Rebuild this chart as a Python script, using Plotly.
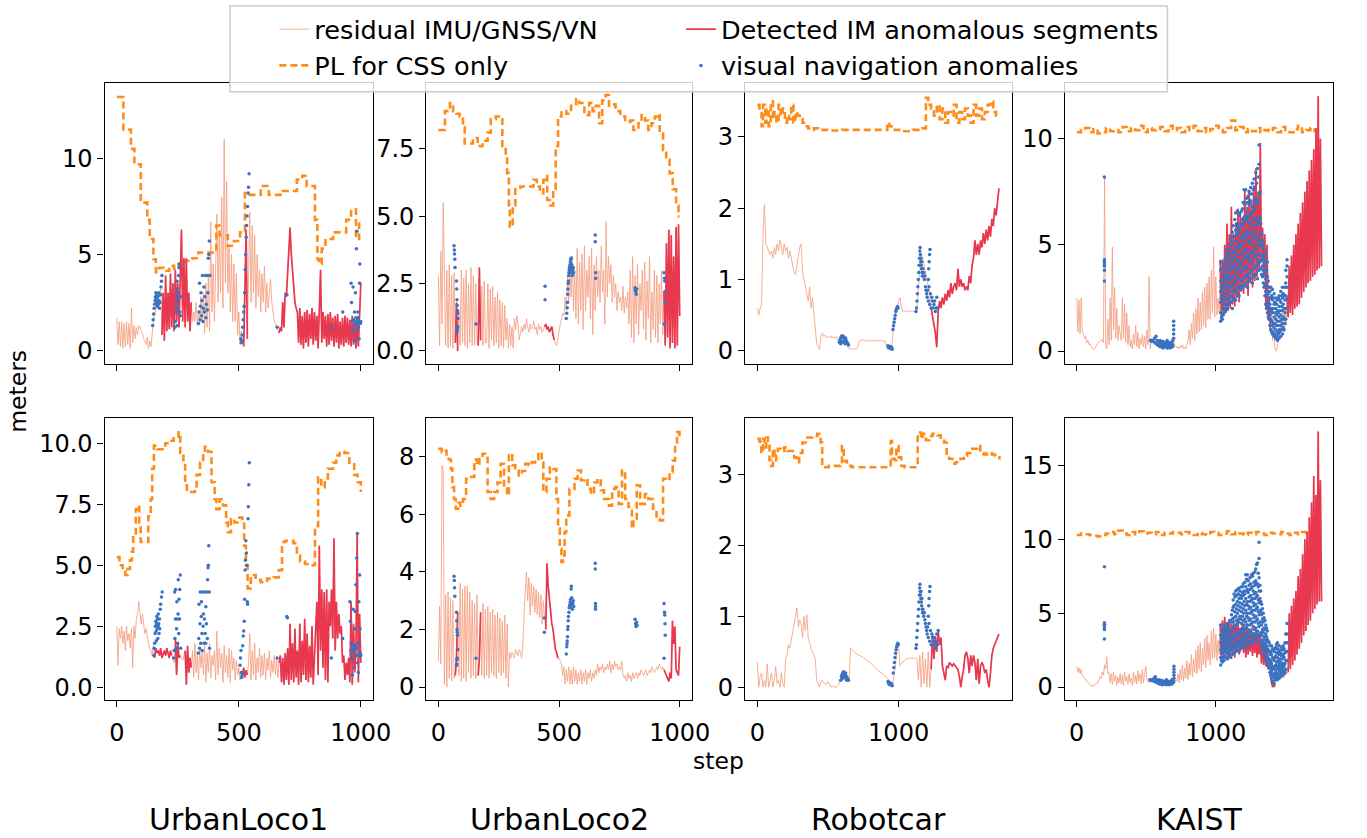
import plotly.graph_objects as go
from plotly.subplots import make_subplots

# ------------------------------------------------------------------ data
# residual IMU/GNSS/VN, sampled every UL_STEP / RC_STEP / KA_STEP steps
UL_STEP = 5
RC_STEP = 10
KA_STEP = 8

ul1_top_res = [
    1.7, 0.3, 1.5, 0.2, 1.5, 0.1, 1.4, 0.2, 1.5, 0.3,
    1.4, 0.1, 2.2, 0.4, 1.3, 0.6, 1.2, 0.8, 1.3, 1.2,
    1.0, 0.9, 0.6, 0.5, 0.3, 0.7, 0.1, 0.5, 0.2, 0.9,
    1.5, 1.8, 2.2, 2.5, 2.8, 3.0, 3.2, 0.8, 3.0, 0.5,
    3.9, 1.0, 3.0, 1.1, 4.0, 1.2, 3.5, 1.0, 4.2, 1.5,
    3.5, 1.2, 4.5, 6.3, 1.5, 4.8, 1.2, 4.8, 1.5, 3.0,
    1.0, 2.5, 1.5, 2.0, 1.5, 2.5, 1.3, 2.0, 1.5, 2.8,
    1.5, 3.0, 0.9, 3.5, 1.2, 4.0, 1.0, 6.7, 2.0, 4.5,
    1.5, 5.0, 7.1, 2.5, 6.0, 3.0, 8.0, 2.2, 11.0, 3.5,
    8.8, 3.0, 5.5, 2.0, 5.0, 1.5, 4.5, 1.5, 4.0, 0.8,
    2.0, 0.3, 1.0, 0.4, 0.2, 3.0, 6.3, 0.6, 5.0, 7.2,
    2.5, 6.5, 3.0, 6.0, 2.2, 5.0, 2.8, 4.2, 2.0, 4.0,
    2.5, 4.4, 2.0, 3.5, 2.2, 3.0, 3.7, 2.5, 2.0, 1.6,
    1.4, 1.2, 1.0, 0.9, 1.2, 1.0, 2.5, 1.2, 3.0, 2.8,
    4.0, 5.0, 6.4, 5.0, 4.0, 3.2, 2.5, 2.2, 2.0, 0.4,
    2.2, 0.3, 1.8, 0.1, 2.0, 0.4, 2.1, 0.2, 1.9, 0.6,
    2.2, 0.3, 2.0, 0.5, 1.8, 0.1, 2.0, 4.2, 0.4, 2.0,
    0.6, 1.8, 0.2, 1.9, 0.3, 2.0, 0.5, 1.7, 0.2, 1.8,
    0.4, 1.9, 0.1, 1.5, 0.3, 1.7, 0.2, 1.8, 0.4, 1.7,
    0.3, 1.6, 0.2, 1.8, 0.3, 1.6, 0.1, 1.5, 0.2, 1.6,
    3.5]
ul1_top_segs = [(185, 305), (520, 535), (665, 1000)]
ul1_top_pl_x = [0, 27, 58, 72, 98, 125, 135, 150, 160, 172, 192, 215, 235, 253, 280, 310, 334,
                360, 408, 421, 455, 480, 505, 525, 545, 590, 623, 680, 738, 760, 778, 812, 822,
                829, 840, 855, 886, 940, 960, 980, 993, 1000]
ul1_top_pl_y = [13.2, 11.5, 10.5, 9.7, 7.7, 6.8, 5.8, 4.75, 4.07, 4.3, 4.15, 4.4, 4.25, 4.5, 4.67,
                4.8, 5.1, 5.1, 6.5, 6.0, 5.45, 5.7, 6.15, 8.2, 8.1, 8.56, 8.1, 8.3, 8.9, 9.1, 8.56,
                6.8, 4.75, 4.5, 5.3, 5.8, 6.15, 6.8, 7.35, 5.8, 6.8, 6.8]
ul1_top_vis = [
    (147, 1.3), (149, 1.6), (151, 1.9), (153, 2.2), (155, 2.4), (157, 2.6), (158, 2.8), (160, 3.0),
    (161, 2.7), (163, 2.5), (164, 2.9), (166, 2.3), (167, 2.6), (169, 2.8), (170, 2.4), (172, 3.0),
    (173, 2.6), (175, 2.2), (177, 2.5), (179, 2.9), (181, 3.3), (183, 3.6), (185, 3.9),
    (238, 1.2), (240, 1.5), (242, 2.0), (243, 2.4), (245, 2.8), (246, 3.2), (247, 3.6), (248, 1.3),
    (250, 2.2), (251, 2.6), (252, 3.0), (253, 3.9), (255, 4.3), (256, 4.5), (258, 2.0), (260, 1.8),
    (262, 2.8),
    (335, 1.4), (337, 2.0), (339, 3.5), (341, 1.6), (343, 2.3), (345, 3.0), (347, 1.8), (349, 2.6),
    (351, 3.9), (353, 1.5), (355, 2.2), (357, 3.3), (359, 2.0), (361, 2.8), (363, 3.9), (365, 1.7),
    (367, 2.4), (369, 3.9), (371, 2.1), (373, 3.0), (375, 4.8), (377, 5.0), (379, 5.7), (381, 3.9),
    (508, 0.6), (510, 0.4), (512, 0.5), (514, 0.8), (516, 1.2), (518, 1.6), (520, 2.0), (522, 2.3),
    (524, 3.0), (526, 4.2), (528, 5.0), (530, 5.9), (532, 6.5), (534, 7.0), (536, 7.5), (538, 8.2),
    (540, 8.5), (542, 9.2),
    (657, 1.2), (697, 2.9), (879, 1.2), (926, 2.0),
    (960, 3.5), (962, 2.5), (964, 1.5), (966, 1.0), (968, 3.3), (970, 1.6), (972, 0.5), (974, 2.0),
    (975, 1.3), (976, 1.5), (978, 3.0), (980, 1.7), (982, 5.3), (983, 1.1), (984, 6.2), (985, 1.4),
    (987, 1.6), (988, 2.0), (989, 1.7), (990, 1.2), (991, 1.5), (993, 0.6), (995, 3.5), (996, 4.5),
    (998, 1.4), (1000, 1.5)]

ul2_top_res = [
    2.8, 0.2, 3.7, 1.0, 5.5, 2.0, 0.2, 3.0, 0.1, 3.2,
    0.2, 2.8, 0.1, 2.9, 0.3, 1.8, 0.0, 1.5, 0.2, 3.0,
    0.3, 2.7, 0.2, 3.0, 0.1, 2.5, 0.3, 3.1, 0.2, 2.8,
    0.2, 2.5, 0.3, 0.2, 3.1, 0.4, 2.4, 0.2, 2.6, 0.3,
    0.3, 2.5, 0.1, 2.3, 0.4, 2.4, 0.2, 2.0, 0.3, 2.2,
    0.1, 1.9, 0.2, 1.8, 0.1, 1.7, 0.4, 1.2, 0.1, 1.0,
    0.2, 0.9, 0.1, 1.2, 0.8, 1.3, 1.0, 0.4, 0.6, 0.9,
    0.7, 1.0, 0.8, 1.2, 0.9, 0.7, 1.0, 0.8, 0.9, 1.1,
    0.8, 0.9, 0.6, 1.0, 0.8, 0.9, 0.7, 0.8, 0.9, 1.0,
    0.8, 0.9, 0.7, 0.8, 0.9, 0.6, 0.4, 0.3, 0.2, 0.5,
    0.7, 1.0, 1.2, 1.4, 1.3, 2.0, 1.5, 2.8, 1.8, 3.2,
    2.0, 3.5, 1.5, 3.0, 1.2, 3.8, 1.0, 3.3, 1.5, 3.6,
    0.8, 3.9, 1.5, 3.0, 2.0, 3.5, 1.2, 3.8, 0.6, 3.2,
    1.5, 3.5, 2.0, 3.0, 1.8, 3.9, 2.2, 3.0, 1.0, 4.8,
    2.0, 3.5, 2.5, 3.2, 1.8, 2.8, 2.0, 2.5, 1.5, 2.2,
    1.8, 2.0, 1.5, 2.4, 1.4, 2.0, 1.6, 2.2, 1.0, 3.0,
    0.5, 3.5, 0.3, 2.8, 1.0, 3.2, 0.6, 2.5, 1.5, 3.0,
    0.8, 3.3, 0.4, 2.6, 1.2, 3.5, 0.3, 2.2, 0.8, 3.0,
    0.5, 2.8, 0.3, 2.5, 1.0, 3.0, 0.6, 2.2, 0.2, 4.0,
    0.5, 4.5, 0.1, 4.3, 0.3, 3.5, 0.1, 4.6, 0.2, 4.7,
    1.3]
ul2_top_segs = [(70, 82), (165, 176), (440, 482), (935, 1000)]
ul2_top_pl_x = [0, 27, 48, 61, 75, 88, 102, 109, 143, 163, 183, 204, 217, 238, 251, 265, 279, 285,
                292, 296, 302, 308, 319, 340, 394, 408, 421, 435, 442, 451, 462, 476, 486, 496, 510,
                530, 550, 571, 584, 605, 625, 639, 652, 666, 679, 693, 707, 720, 734, 754, 774, 795,
                808, 829, 842, 856, 870, 883, 897, 910, 917, 931, 944, 958, 971, 985, 995, 1000]
ul2_top_pl_y = [8.2, 8.9, 9.2, 8.9, 8.8, 8.7, 8.3, 7.7, 7.9, 7.6, 7.8, 8.1, 8.6, 8.7, 8.6, 7.6, 7.2,
                6.6, 5.4, 4.6, 4.7, 5.4, 6.0, 6.1, 6.35, 6.1, 5.85, 6.35, 6.5, 5.6, 5.4, 6.0, 7.6,
                8.7, 8.9, 8.8, 9.1, 9.35, 9.2, 8.75, 9.2, 8.9, 9.1, 8.45, 9.3, 9.5, 9.1, 9.15, 8.9,
                8.7, 8.5, 8.55, 8.2, 8.45, 8.75, 8.55, 8.2, 8.45, 8.7, 8.8, 8.07, 7.45, 7.1, 6.6,
                6.0, 5.4, 5.0, 5.0]
ul2_top_vis = [
    (65, 3.9), (66, 3.75), (67, 3.6), (68, 3.4), (69, 3.1), (75, 2.6), (76, 2.3), (77, 1.9),
    (78, 1.7), (79, 1.5), (80, 1.4), (81, 1.2), (80, 0.9), (78, 0.8), (77, 0.7), (156, 1.0),
    (442, 2.4), (442, 1.9),
    (530, 1.2), (532, 1.4), (534, 1.6), (535, 1.8), (536, 2.1), (537, 2.3), (538, 2.5), (539, 2.6),
    (540, 2.8), (541, 2.9), (542, 3.0), (543, 3.1), (545, 3.2), (546, 3.0), (547, 3.3), (548, 3.4),
    (550, 3.1), (551, 3.45), (552, 2.9), (553, 3.2), (555, 2.8), (557, 3.0), (559, 3.1), (560, 2.9),
    (650, 4.3), (650, 4.05), (652, 2.9), (652, 2.7),
    (815, 2.35), (816, 2.25), (818, 2.2), (820, 2.1), (822, 2.3),
    (935, 2.9), (937, 2.7), (938, 2.6), (939, 2.2), (940, 1.8), (936, 1.0)]

rc_top_res = [
    0.6, 0.5, 0.6, 0.65, 1.6, 2.05, 1.5, 1.45, 1.4, 1.35,
    1.4, 1.3, 1.45, 1.35, 1.5, 1.4, 1.55, 1.45, 1.35, 1.5,
    1.4, 1.45, 1.3, 1.4, 1.3, 1.2, 1.1, 1.07, 1.2, 1.3,
    1.45, 1.5, 1.1, 1.0, 0.9, 0.85, 0.7, 0.9, 0.6, 0.75,
    0.5, 0.3, 0.1, 0.05, 0.02, 0.2, 0.25, 0.2, 0.22, 0.18,
    0.2, 0.18, 0.21, 0.18, 0.2, 0.17, 0.2, 0.15, 0.12, 0.15,
    0.2, 0.18, 0.15, 0.12, 0.05, 0.03, 0.02, 0.03, 0.02, 0.03,
    0.02, 0.05, 0.12, 0.15, 0.15, 0.14, 0.15, 0.13, 0.15, 0.14,
    0.15, 0.13, 0.15, 0.14, 0.15, 0.13, 0.15, 0.14, 0.15, 0.13,
    0.14, 0.1, 0.02, 0.05, 0.03, 0.04, 0.3, 0.45, 0.55, 0.6,
    0.7, 0.75, 0.6, 0.55, 0.56, 0.55, 0.56, 0.55, 0.56, 0.55,
    0.56, 0.55, 0.56, 0.6, 0.9, 1.2, 1.35, 1.3, 1.2, 1.1,
    1.0, 0.9, 0.8, 0.6, 0.5, 0.35, 0.25, 0.05, 0.55, 0.7,
    0.6, 0.75, 0.65, 0.8, 0.7, 0.85, 0.75, 0.95, 0.8, 0.9,
    0.95, 0.85, 1.15, 0.9, 1.0, 0.9, 0.95, 0.85, 0.9, 0.85,
    1.05, 0.95, 1.2, 1.3, 1.55, 1.35, 1.5, 1.35, 1.55, 1.45,
    1.65, 1.5, 1.7, 1.55, 1.75, 1.6, 1.85, 1.75, 2.0, 1.9,
    2.15, 2.28]
rc_top_segs = [(1225, 1710)]
rc_top_pl_x = [0, 15, 30, 40, 55, 65, 80, 95, 110, 120, 135, 150, 165, 180, 195, 210, 225, 240,
               255, 270, 285, 300, 320, 340, 360, 380, 400, 430, 460, 520, 600, 700, 800, 880, 920,
               935, 950, 980, 1030, 1100, 1170, 1193, 1210, 1230, 1250, 1270, 1290, 1310, 1330,
               1350, 1370, 1390, 1410, 1430, 1450, 1470, 1490, 1510, 1530, 1550, 1570, 1590, 1610,
               1630, 1650, 1670, 1690, 1710]
rc_top_pl_y = [3.45, 3.4, 3.15, 3.45, 3.2, 3.4, 3.15, 3.5, 3.25, 3.35, 3.2, 3.45, 3.3, 3.4, 3.2,
               3.3, 3.25, 3.45, 3.2, 3.35, 3.3, 3.25, 3.2, 3.15, 3.12, 3.1, 3.12, 3.1, 3.1, 3.09,
               3.1, 3.1, 3.1, 3.1, 3.2, 3.15, 3.1, 3.1, 3.08, 3.1, 3.12, 3.55, 3.45, 3.4, 3.3,
               3.45, 3.25, 3.4, 3.2, 3.35, 3.3, 3.45, 3.2, 3.35, 3.25, 3.4, 3.3, 3.2, 3.45, 3.3,
               3.4, 3.25, 3.35, 3.45, 3.5, 3.35, 3.3, 3.3]
rc_top_vis = [
    (580, 0.12), (585, 0.15), (590, 0.18), (595, 0.2), (600, 0.21), (605, 0.19), (610, 0.2),
    (615, 0.17), (620, 0.15), (625, 0.18), (630, 0.14), (635, 0.12), (640, 0.1), (645, 0.08),
    (590, 0.1), (600, 0.13), (610, 0.12), (620, 0.1),
    (925, 0.07), (930, 0.05), (935, 0.04), (940, 0.06), (945, 0.03), (950, 0.05), (955, 0.02),
    (960, 0.3), (964, 0.35), (968, 0.4), (972, 0.45), (976, 0.5), (980, 0.55), (984, 0.58),
    (988, 0.6), (992, 0.62), (996, 0.6),
    (1123, 0.55), (1127, 0.6), (1130, 0.7), (1133, 0.8), (1136, 0.9), (1139, 1.0), (1142, 1.1),
    (1145, 1.2), (1148, 1.3), (1150, 1.4), (1152, 1.45), (1154, 1.35), (1156, 1.25), (1158, 1.3),
    (1160, 1.2), (1162, 1.15), (1164, 1.25), (1166, 1.1), (1168, 1.05), (1172, 1.15), (1175, 1.05),
    (1178, 1.1), (1182, 1.0), (1186, 1.05), (1190, 0.9), (1194, 0.85), (1198, 0.8), (1202, 0.75),
    (1210, 1.0), (1213, 1.15), (1216, 1.25), (1219, 1.35), (1222, 1.42),
    (1205, 0.85), (1210, 0.7), (1215, 0.9), (1220, 0.65), (1225, 0.8), (1230, 0.6), (1235, 0.75),
    (1240, 0.7), (1245, 0.6), (1250, 0.65), (1255, 0.7), (1260, 0.55), (1265, 0.6), (1270, 0.75),
    (1275, 0.6)]

ka_top_res = [
    2.5, 0.9, 2.4, 0.8, 2.5, 0.9, 0.8, 0.6, 0.7, 0.4,
    0.5, 0.3, 0.35, 0.2, 0.1, 0.05, 0.1, 0.2, 0.3, 0.4,
    0.45, 0.5, 0.5, 0.55, 0.4, 8.2, 0.3, 0.1, 1.5, 0.3,
    2.5, 0.5, 4.9, 1.0, 3.0, 0.6, 2.0, 0.5, 1.2, 0.8,
    0.5, 2.5, 0.6, 2.2, 0.4, 1.8, 0.3, 1.2, 0.2, 0.5,
    0.1, 0.8, 0.3, 1.2, 0.2, 0.9, 0.1, 0.6, 0.3, 0.8,
    0.2, 0.7, 0.1, 1.0, 0.3, 3.5, 0.1, 0.6, 0.5, 0.45,
    0.5, 0.4, 0.5, 0.45, 0.4, 0.5, 0.3, 0.35, 0.25, 0.3,
    0.2, 0.3, 0.25, 0.2, 0.3, 0.2, 0.25, 0.5, 0.3, 0.2,
    0.15, 0.2, 0.1, 0.25, 0.15, 0.3, 0.1, 0.2, 0.1, 0.3,
    0.5, 1.0, 0.3, 1.3, 0.6, 1.8, 0.5, 2.0, 0.8, 2.5,
    0.9, 2.3, 1.0, 2.8, 1.2, 3.0, 1.1, 3.2, 1.5, 3.5,
    1.5, 3.8, 1.8, 4.9, 1.6, 3.5, 1.7, 2.5, 1.8, 4.3,
    1.5, 4.3, 1.7, 5.0, 1.8, 6.0, 1.9, 5.5, 2.0, 6.8,
    2.2, 5.5, 2.1, 6.0, 2.5, 6.7, 2.3, 6.5, 2.8, 6.2,
    2.7, 7.6, 3.0, 6.8, 2.6, 7.6, 3.2, 7.0, 3.0, 7.8,
    3.3, 8.6, 3.5, 7.5, 3.8, 9.8, 4.2, 5.8, 3.5, 5.5,
    2.0, 5.0, 1.5, 2.5, 1.0, 2.0, 0.5, 1.5, 0.2, 0.0,
    0.1, 0.5, 0.8, 1.2, 1.0, 1.8, 0.9, 2.0, 1.2, 2.5,
    1.6, 4.0, 1.8, 4.5, 1.7, 5.0, 2.0, 5.5, 2.1, 6.0,
    2.2, 6.5, 2.5, 7.0, 2.8, 7.5, 3.0, 8.0, 3.2, 8.5,
    3.3, 9.0, 3.5, 9.5, 3.6, 10.5, 3.8, 12.0, 3.9, 10.0,
    4.0]
ka_top_segs = [(1032, 1392), (1512, 1760)]
ka_top_pl = [10.3, 10.4, 10.5, 10.3, 10.45, 10.25, 10.3, 10.5, 10.35, 10.4,
             10.3, 10.55, 10.35, 10.5, 10.4, 10.6, 10.3, 10.5, 10.4, 10.45,
             10.55, 10.35, 10.6, 10.4, 10.5, 10.3, 10.55, 10.4, 10.6, 10.35,
             10.5, 10.3, 10.45, 10.6, 10.4, 10.3, 10.5, 10.85, 10.4, 10.55,
             10.3, 10.45, 10.35, 10.5, 10.3, 10.4, 10.35, 10.5, 10.3, 10.55,
             10.4, 10.3, 10.45, 10.6, 10.3, 10.4, 10.5, 10.35, 10.45]
ka_top_cloud = [
    (199, [8.2, 4.3, 4.2, 4.1, 4.0, 3.8, 3.3]),
    (530, [0.5]), (540, [0.5, 0.45]), (550, [0.5]), (560, [0.6, 0.4]), (570, [0.7, 0.35]),
    (580, [0.5, 0.3]), (590, [0.45, 0.25, 0.35]), (600, [0.3, 0.2, 0.5]), (610, [0.35, 0.2, 0.4]),
    (620, [0.3, 0.15, 0.45]), (630, [0.25, 0.35, 0.2]), (640, [0.4, 0.2, 0.3]),
    (650, [0.3, 0.15, 0.5]), (660, [0.35, 0.2, 0.4]), (670, [0.25, 0.3, 0.15]),
    (680, [0.4, 0.2, 0.3]), (690, [0.3, 0.5, 0.2]), (697, [0.6, 0.8, 1.0, 1.2, 1.4]),
    (1035, [1.4, 1.8, 2.3, 2.8, 3.3, 3.8, 4.2]), (1041, [1.6, 2.5, 3.0, 3.9]),
    (1047, [1.5, 2.0, 2.6, 3.1, 3.6]), (1053, [1.7, 2.4, 3.3, 4.1]),
    (1059, [1.8, 2.2, 2.9, 3.4, 4.0]), (1065, [2.0, 2.7, 3.6, 4.3]),
    (1071, [1.9, 2.5, 3.2, 3.8, 4.4]), (1077, [2.2, 3.0, 3.5, 4.6]),
    (1083, [2.0, 2.7, 3.4, 4.1, 4.8]), (1089, [2.4, 3.1, 3.9, 4.5]),
    (1095, [2.2, 2.9, 3.6, 4.3, 5.0]), (1101, [2.5, 3.3, 4.0, 4.8]),
    (1107, [2.3, 3.0, 3.8, 4.5, 5.2]), (1113, [2.6, 3.4, 4.2, 5.4]),
    (1119, [2.0, 2.8, 3.5, 4.3, 5.0, 5.6]), (1125, [2.4, 3.1, 3.9, 4.6, 5.9]),
    (1131, [2.5, 3.2, 4.0, 4.7, 5.4]), (1137, [2.8, 3.6, 4.4, 5.2, 6.2]),
    (1143, [2.4, 3.3, 4.1, 4.9, 5.7, 6.5]), (1149, [2.9, 3.8, 4.6, 5.5, 6.0]),
    (1155, [2.7, 3.5, 4.3, 5.1, 5.9, 6.6]), (1161, [3.0, 3.9, 4.8, 5.6]),
    (1167, [2.6, 3.4, 4.2, 5.0, 5.8, 6.4]), (1173, [3.1, 4.0, 4.9, 5.7, 6.5]),
    (1179, [2.9, 3.7, 4.5, 5.3, 6.0]), (1185, [3.3, 4.1, 5.0, 5.9, 6.6]),
    (1191, [3.0, 3.8, 4.6, 5.4, 6.2, 6.7]), (1197, [3.4, 4.3, 5.1, 6.0, 7.0]),
    (1203, [3.1, 3.9, 4.7, 5.5, 6.3, 7.6]), (1209, [3.5, 4.4, 5.3, 6.1, 6.9]),
    (1215, [3.2, 4.0, 4.8, 5.6, 6.4, 7.6]), (1221, [3.6, 4.5, 5.4, 6.2, 7.2]),
    (1227, [3.0, 3.9, 4.8, 5.7, 6.6, 7.0]), (1233, [3.5, 4.4, 5.2, 6.3, 7.3]),
    (1239, [3.3, 4.2, 5.1, 6.0, 6.9, 7.5]), (1245, [3.7, 4.6, 5.5, 6.4, 7.1]),
    (1251, [3.4, 4.3, 5.2, 6.1, 7.0, 7.7]), (1257, [3.8, 4.7, 5.6, 6.5, 7.4]),
    (1263, [3.2, 4.1, 5.0, 5.9, 6.8, 7.9]), (1269, [3.6, 4.6, 5.5, 6.6, 7.6]),
    (1275, [3.5, 4.4, 5.3, 6.2, 7.1, 8.1]), (1281, [3.9, 4.8, 5.7, 6.7, 7.7]),
    (1287, [3.6, 4.5, 5.4, 6.3, 7.2, 8.4]), (1293, [4.0, 4.9, 5.9, 6.9, 7.9]),
    (1299, [3.4, 4.3, 5.2, 6.1, 7.0, 8.6]), (1305, [4.1, 5.0, 6.0, 7.1, 8.2]),
    (1311, [3.8, 4.6, 5.4, 6.2, 7.4, 8.8, 9.7]), (1317, [4.2, 5.2, 6.3, 7.5]),
    (1323, [3.9, 4.5, 5.0, 5.6, 6.0]), (1329, [3.6, 4.3, 4.9, 5.5]),
    (1335, [3.5, 4.0, 4.5, 5.2]), (1341, [3.2, 3.8, 4.4, 5.0]),
    (1347, [3.0, 3.6, 4.2, 4.8]), (1353, [2.6, 3.1, 3.7, 4.3]),
    (1359, [2.2, 2.8, 3.4, 4.0, 4.6]), (1365, [2.0, 2.6, 3.1, 3.8]),
    (1371, [1.8, 2.3, 2.8, 3.5, 4.2]), (1377, [1.6, 2.1, 2.7, 3.3]),
    (1383, [1.5, 2.0, 2.5, 3.0]), (1389, [1.2, 1.7, 2.2, 2.8]),
    (1395, [1.0, 1.5, 2.0, 2.5, 3.0]), (1401, [0.9, 1.4, 1.9, 2.6]),
    (1407, [0.8, 1.2, 1.8, 2.4, 2.9]), (1413, [0.9, 1.3, 2.0, 2.5]),
    (1419, [0.7, 1.1, 1.6, 2.2, 2.7]), (1425, [0.8, 1.3, 1.8, 2.3]),
    (1431, [0.6, 1.0, 1.5, 2.0, 2.5]), (1437, [0.7, 1.2, 1.7, 2.2]),
    (1443, [0.5, 0.9, 1.4, 1.9, 2.4]), (1449, [0.8, 1.2, 1.8, 2.5]),
    (1455, [0.6, 1.0, 1.6, 2.1, 2.6]), (1461, [0.9, 1.4, 1.9, 2.4]),
    (1467, [0.7, 1.2, 1.7, 2.3, 2.8]), (1473, [1.0, 1.5, 2.1, 2.6]),
    (1479, [0.8, 1.3, 1.9, 2.5, 3.0]), (1485, [1.1, 1.6, 2.2, 2.7]),
    (1491, [1.0, 1.5, 2.0, 2.6]), (1497, [1.3, 1.8, 2.4, 3.0]),
    (1503, [1.5, 2.0, 2.6, 3.2, 3.8]), (1512, [2.5, 3.0, 3.5, 4.0, 4.3])]

ul1_bot_res = [
    2.5, 0.9, 2.4, 2.0, 2.5, 1.8, 2.3, 1.5, 2.5, 1.9,
    2.2, 1.6, 2.4, 0.8, 2.5, 2.0, 2.8, 3.0, 3.5, 3.0,
    2.6, 3.0, 2.5, 2.2, 2.4, 2.0, 1.8, 1.6, 1.5, 1.3,
    1.7, 1.2, 1.6, 1.4, 1.5, 1.3, 1.6, 1.2, 1.4, 1.5,
    1.3, 1.6, 1.4, 1.2, 1.5, 1.3, 1.2, 1.0, 2.0, 0.5,
    1.8, 1.2, 1.3, 1.2, 1.1, 1.3, 1.5, 0.1, 1.7, 0.6,
    1.2, 0.8, 1.5, 0.4, 1.8, 0.6, 1.4, 0.3, 1.6, 0.8,
    1.5, 0.5, 1.7, 0.2, 1.4, 0.6, 1.8, 0.4, 1.3, 0.9,
    1.5, 0.3, 2.3, 0.5, 1.6, 0.8, 1.4, 0.2, 1.7, 0.6,
    1.3, 0.4, 1.6, 0.2, 1.5, 0.7, 1.2, 0.3, 1.1, 0.5,
    0.8, 0.3, 0.6, 0.5, 0.8, 0.4, 0.7, 0.5, 1.0, 2.2,
    0.3, 1.5, 0.5, 1.8, 0.3, 1.2, 0.6, 1.6, 0.4, 1.3,
    0.5, 1.4, 0.3, 1.2, 0.7, 1.5, 0.4, 1.1, 0.6, 1.3,
    0.5, 1.2, 0.4, 1.0, 1.3, 0.2, 1.2, 0.1, 1.4, 0.3,
    1.6, 0.1, 2.6, 0.3, 1.8, 0.2, 2.4, 0.4, 1.5, 0.1,
    2.6, 0.2, 1.9, 0.5, 2.8, 0.3, 2.2, 0.2, 1.7, 0.4,
    2.5, 0.1, 1.4, 2.0, 3.5, 0.5, 5.8, 1.5, 4.0, 0.8,
    3.9, 0.3, 4.0, 0.2, 3.5, 2.5, 4.0, 2.0, 6.1, 1.5,
    3.5, 2.0, 3.0, 2.2, 2.5, 1.0, 1.3, 0.3, 1.0, 0.5,
    1.2, 0.2, 3.5, 0.1, 2.6, 0.6, 1.5, 6.3, 0.2, 3.0,
    1.0]
ul1_bot_segs = [(155, 228), (238, 262), (278, 308), (508, 537), (662, 1000)]
ul1_bot_pl_x = [0, 11, 24, 35, 44, 54, 62, 67, 78, 89, 92, 98, 118, 129, 139, 145, 152, 166, 186,
                199, 213, 233, 253, 260, 273, 280, 287, 300, 320, 327, 341, 354, 361, 374, 388,
                401, 408, 421, 435, 448, 455, 468, 482, 502, 515, 522, 529, 536, 549, 569, 590,
                616, 643, 664, 677, 690, 711, 724, 738, 751, 771, 791, 812, 825, 838, 852, 865,
                886, 899, 913, 933, 953, 973, 987, 1000]
ul1_bot_pl_y = [5.33, 5.0, 4.8, 4.6, 4.85, 5.2, 5.55, 6.2, 7.3, 7.45, 6.75, 5.95, 5.95, 7.0, 7.7,
                8.95, 9.9, 9.75, 9.75, 10.0, 10.1, 10.2, 10.45, 9.6, 9.1, 8.4, 8.0, 8.0, 8.1, 8.7,
                9.2, 9.55, 9.85, 9.65, 8.4, 7.7, 7.3, 7.7, 7.45, 6.75, 6.35, 6.9, 6.75, 6.95, 6.7,
                5.8, 5.0, 4.05, 4.6, 4.4, 4.3, 4.45, 4.5, 4.8, 5.95, 6.0, 6.0, 5.9, 5.4, 5.15,
                5.05, 5.0, 6.6, 8.6, 8.2, 8.55, 8.95, 9.2, 9.5, 9.65, 9.6, 9.2, 8.7, 8.4, 8.0]
ul1_bot_vis = [
    (152, 1.3), (153, 1.6), (155, 1.8), (157, 2.2), (158, 2.5), (160, 2.7), (161, 2.3), (162, 1.9),
    (163, 2.6), (164, 2.9), (166, 2.4), (167, 2.8), (168, 2.0), (169, 2.5), (170, 3.0), (172, 2.6),
    (173, 2.2), (175, 2.8), (176, 2.4), (178, 3.2), (180, 3.4), (183, 3.7), (186, 3.9),
    (233, 1.2), (235, 1.5), (237, 3.9), (238, 2.0), (240, 2.8), (241, 4.0), (243, 1.6), (245, 2.4),
    (246, 3.5), (248, 2.8), (249, 1.8), (251, 3.0), (252, 4.4), (254, 2.2), (255, 3.6), (257, 2.8),
    (258, 4.0), (260, 4.6), (262, 1.6),
    (334, 1.4), (336, 2.0), (337, 3.4), (339, 1.6), (341, 2.6), (342, 3.9), (344, 1.8), (346, 2.9),
    (347, 3.5), (349, 2.2), (350, 1.5), (352, 3.9), (354, 2.5), (355, 3.0), (357, 1.8), (359, 2.8),
    (360, 3.9), (362, 2.2), (364, 1.8), (365, 3.3), (367, 2.6), (369, 3.9), (371, 2.0), (372, 4.4),
    (374, 4.9), (375, 5.0), (377, 5.8), (379, 3.9), (380, 1.6),
    (505, 0.9), (507, 1.2), (509, 1.5), (510, 0.6), (512, 0.4), (514, 0.5), (516, 1.7), (518, 2.1),
    (520, 2.3), (522, 2.7), (524, 3.6), (526, 4.8), (527, 5.2), (529, 6.0), (531, 5.5), (533, 5.0),
    (535, 3.5), (536, 3.4), (538, 6.9), (539, 7.4), (541, 8.3), (543, 9.2),
    (657, 1.2), (697, 2.9), (699, 2.85), (879, 1.2), (926, 2.0),
    (955, 3.5), (957, 2.7), (959, 1.5), (961, 1.8), (963, 1.4), (964, 1.2), (966, 0.5), (968, 3.2),
    (969, 1.6), (971, 1.7), (972, 0.8), (974, 2.4), (975, 1.5), (977, 3.1), (978, 1.7), (980, 4.2),
    (981, 1.3), (983, 5.3), (984, 1.6), (986, 6.3), (987, 1.0), (989, 1.8), (990, 0.6), (992, 3.5),
    (993, 1.3), (995, 4.6), (997, 2.4), (998, 1.4), (1000, 1.3)]

ul2_bot_res = [
    0.9, 2.8, 0.8, 7.7, 7.5, 0.1, 3.2, 0.0, 3.3, 0.3,
    3.1, 0.2, 3.0, 0.3, 0.4, 1.0, 2.6, 0.4, 3.6, 0.2,
    3.4, 0.3, 3.5, 0.2, 3.5, 0.5, 3.3, 0.3, 3.0, 0.4,
    2.9, 0.3, 3.2, 0.4, 1.0, 2.6, 0.4, 2.9, 0.3, 2.7,
    0.4, 2.8, 0.3, 2.6, 0.5, 2.7, 0.4, 2.5, 0.3, 2.6,
    0.5, 2.4, 0.4, 2.3, 0.5, 2.5, 0.3, 2.2, 0.0, 1.2,
    1.0, 1.2, 1.1, 1.0, 1.3, 1.2, 1.1, 1.3, 1.2, 1.0,
    1.5, 2.5, 3.5, 4.0, 3.0, 3.8, 2.5, 3.6, 2.8, 3.5,
    2.6, 3.4, 2.5, 3.3, 2.4, 3.2, 2.2, 3.0, 2.4, 2.0,
    4.3, 3.5, 3.0, 2.8, 2.2, 2.0, 1.5, 1.3, 1.2, 1.0,
    1.0, 0.9, 0.8, 0.4, 0.7, 0.1, 0.6, 0.2, 0.7, 0.1,
    0.6, 0.1, 0.7, 0.2, 0.6, 0.1, 0.5, 0.2, 0.6, 0.1,
    0.5, 0.2, 0.6, 0.1, 0.5, 0.3, 0.6, 0.2, 0.5, 0.3,
    0.6, 0.4, 0.8, 0.5, 0.7, 0.6, 0.8, 0.5, 0.7, 0.6,
    0.8, 0.6, 0.9, 0.5, 0.8, 0.6, 0.9, 0.7, 0.8, 0.6,
    0.7, 0.6, 0.9, 0.4, 0.3, 0.4, 0.2, 0.5, 0.3, 0.4,
    0.2, 0.5, 0.3, 0.4, 0.5, 0.3, 0.5, 0.4, 0.6, 0.5,
    0.4, 0.5, 0.6, 0.4, 0.5, 0.6, 0.5, 0.7, 0.6, 0.5,
    0.6, 0.7, 0.6, 0.8, 0.7, 0.6, 0.7, 0.6, 0.5, 0.4,
    0.3, 0.2, 0.5, 0.3, 2.3, 1.5, 2.1, 0.6, 0.5, 0.4,
    1.4]
ul2_bot_segs = [(70, 82), (165, 176), (445, 497), (935, 1000)]
ul2_bot_pl_x = [0, 14, 24, 34, 43, 52, 58, 65, 72, 82, 91, 102, 115, 136, 149, 160, 170, 183, 197,
                204, 217, 231, 245, 258, 272, 285, 292, 306, 319, 333, 346, 360, 374, 387, 401, 414,
                428, 435, 448, 462, 476, 489, 496, 503, 510, 516, 523, 530, 543, 564, 577, 591, 605,
                618, 632, 645, 659, 673, 686, 707, 720, 734, 747, 761, 774, 788, 802, 808, 822, 836,
                856, 870, 890, 904, 917, 931, 944, 958, 971, 981, 989, 999]
ul2_bot_pl_y = [8.27, 8.15, 8.2, 7.98, 7.9, 7.57, 6.94, 6.53, 6.19, 6.4, 6.3, 6.53, 7.23, 7.3, 7.9,
                7.7, 7.98, 8.1, 8.1, 6.77, 6.53, 6.77, 7.1, 7.75, 6.9, 6.65, 8.1, 7.7, 7.6, 7.35,
                7.5, 7.75, 7.7, 7.8, 7.9, 8.15, 7.8, 6.77, 7.23, 7.63, 7.57, 6.53, 5.5, 4.8, 4.34,
                4.57, 5.38, 5.96, 6.88, 7.23, 7.52, 7.18, 7.23, 6.88, 6.7, 7.1, 7.23, 6.83, 6.53,
                6.3, 6.88, 6.94, 6.36, 7.52, 6.53, 6.25, 5.5, 5.84, 7.0, 6.36, 6.7, 6.53, 6.07,
                5.84, 5.78, 7.23, 7.18, 7.46, 7.86, 8.38, 8.85, 8.67]
ul2_bot_vis = [
    (65, 3.85), (66, 3.7), (67, 3.45), (68, 3.15), (75, 2.6), (76, 2.3), (77, 2.0), (78, 1.9),
    (79, 1.8), (80, 1.3), (78, 1.0), (77, 0.95), (76, 0.8), (75, 0.75), (156, 1.0),
    (439, 2.4), (439, 1.9),
    (530, 1.15), (532, 1.4), (533, 1.5), (534, 1.6), (535, 1.75), (536, 2.0), (537, 2.1), (538, 2.3),
    (539, 2.45), (541, 2.6), (542, 2.75), (544, 2.85), (546, 2.95), (548, 3.05), (549, 2.8),
    (550, 3.4), (551, 3.5), (552, 2.9), (553, 3.1), (555, 2.7), (557, 2.9), (559, 3.0), (561, 2.8),
    (650, 4.3), (650, 4.1), (651, 2.9), (651, 2.8), (651, 2.7),
    (815, 2.35), (817, 2.2), (819, 2.1), (821, 2.25), (823, 2.15),
    (935, 2.9), (937, 2.6), (938, 2.5), (939, 2.2), (940, 1.8), (935, 1.0)]

rc_bot_res = [
    0.35, 0.0, 0.15, 0.2, 0.0, 0.1, 0.0, 0.33, 0.0, 0.1,
    0.2, 0.0, 0.1, 0.3, 0.05, 0.1, 0.0, 0.2, 0.05, 0.0,
    0.4, 0.45, 0.6, 0.55, 0.65, 0.75, 0.85, 1.0, 1.12, 0.85,
    0.95, 0.9, 0.7, 1.0, 0.8, 1.02, 0.7, 0.6, 0.55, 0.5,
    0.45, 0.4, 0.1, 0.05, 0.0, 0.08, 0.1, 0.06, 0.05, 0.04,
    0.08, 0.06, 0.0, 0.02, 0.0, 0.01, 0.0, 0.03, 0.05, 0.12,
    0.18, 0.2, 0.21, 0.19, 0.15, 0.12, 0.55, 0.53, 0.5, 0.48,
    0.47, 0.46, 0.45, 0.45, 0.44, 0.42, 0.4, 0.38, 0.37, 0.36,
    0.34, 0.32, 0.3, 0.28, 0.27, 0.25, 0.23, 0.21, 0.2, 0.18,
    0.16, 0.14, 0.12, 0.1, 0.08, 0.06, 0.05, 0.2, 0.35, 0.55,
    0.6, 0.3, 0.33, 0.35, 0.38, 0.4, 0.4, 0.4, 0.42, 0.4,
    0.41, 0.4, 0.42, 0.4, 0.1, 0.45, 0.0, 0.5, 0.05, 0.4,
    0.0, 0.5, 0.0, 0.25, 0.75, 0.4, 0.7, 0.5, 0.8, 0.6,
    0.7, 0.3, 0.2, 0.1, 0.3, 0.28, 0.35, 0.32, 0.3, 0.33,
    0.3, 0.28, 0.25, 0.15, 0.0, 0.15, 0.25, 0.45, 0.5, 0.4,
    0.2, 0.45, 0.3, 0.45, 0.35, 0.1, 0.4, 0.05, 0.3, 0.35,
    0.3, 0.2, 0.25, 0.1, 0.0, 0.2, 0.45, 0.55, 0.6, 0.65,
    0.7, 0.75]
rc_bot_segs = [(1230, 1710)]
rc_bot_pl_x = [0, 16, 28, 40, 51, 63, 75, 86, 98, 110, 121, 133, 145, 168, 191, 214, 238, 261, 277,
               296, 319, 354, 389, 424, 448, 459, 471, 506, 552, 587, 599, 611, 634, 669, 739, 832,
               925, 944, 953, 972, 984, 1000, 1019, 1042, 1089, 1124, 1135, 1159, 1170, 1193, 1217,
               1240, 1275, 1298, 1322, 1340, 1357, 1380, 1403, 1438, 1462, 1485, 1508, 1531, 1555,
               1578, 1601, 1625, 1660, 1683, 1713]
rc_bot_pl_y = [3.5, 3.46, 3.3, 3.5, 3.38, 3.52, 3.45, 3.2, 3.12, 3.36, 3.2, 3.27, 3.36, 3.33, 3.38,
               3.33, 3.33, 3.24, 3.17, 3.3, 3.45, 3.52, 3.54, 3.57, 3.45, 3.12, 3.1, 3.12, 3.12,
               3.14, 3.4, 3.19, 3.12, 3.1, 3.1, 3.1, 3.1, 3.47, 3.22, 3.2, 3.4, 3.24, 3.12, 3.1,
               3.1, 3.1, 3.59, 3.5, 3.57, 3.48, 3.54, 3.57, 3.55, 3.5, 3.45, 3.26, 3.22, 3.15,
               3.17, 3.22, 3.26, 3.3, 3.36, 3.36, 3.4, 3.3, 3.28, 3.3, 3.28, 3.26, 3.21]
rc_bot_vis = [
    (590, 0.1), (595, 0.15), (600, 0.18), (605, 0.2), (610, 0.22), (615, 0.2), (620, 0.18),
    (625, 0.2), (630, 0.15), (635, 0.13), (640, 0.12), (645, 0.1), (600, 0.12), (612, 0.15),
    (622, 0.13), (632, 0.1),
    (925, 0.08), (930, 0.05), (935, 0.04), (940, 0.06), (945, 0.03), (950, 0.05), (955, 0.02),
    (962, 0.2), (966, 0.28), (970, 0.35), (974, 0.42), (978, 0.48), (982, 0.53), (986, 0.57),
    (990, 0.6), (994, 0.62), (998, 0.6),
    (1123, 0.55), (1126, 0.6), (1129, 0.7), (1132, 0.8), (1135, 0.9), (1138, 1.0), (1141, 1.1),
    (1144, 1.2), (1147, 1.3), (1149, 1.4), (1151, 1.45), (1153, 1.35), (1155, 1.3), (1157, 1.25),
    (1159, 1.35), (1161, 1.2), (1163, 1.15), (1165, 1.25), (1167, 1.1), (1169, 1.05), (1172, 1.1),
    (1175, 1.05), (1178, 1.0), (1182, 1.05), (1186, 0.95), (1190, 0.9), (1194, 0.85), (1198, 0.8),
    (1202, 0.75), (1210, 1.0), (1213, 1.15), (1216, 1.25), (1219, 1.35), (1222, 1.42),
    (1205, 0.85), (1210, 0.7), (1215, 0.9), (1220, 0.65), (1225, 0.8), (1230, 0.6), (1235, 0.75),
    (1240, 0.7), (1245, 0.6), (1250, 0.65), (1255, 0.7), (1260, 0.55), (1265, 0.65), (1270, 0.75),
    (1275, 0.6), (1280, 0.8)]

ka_bot_res = [
    1.4, 1.0, 1.3, 0.9, 1.2, 0.8, 0.7, 0.6, 0.5, 0.4,
    0.3, 0.2, 0.1, 0.05, 0.1, 0.05, 0.15, 0.2, 0.3, 0.25,
    0.5, 0.7, 0.6, 1.0, 0.8, 1.5, 1.2, 2.05, 0.9, 1.0,
    0.3, 0.9, 0.2, 1.0, 0.4, 0.8, 0.1, 0.7, 0.3, 0.9,
    0.2, 0.8, 0.1, 1.0, 0.4, 0.7, 0.2, 0.9, 0.3, 0.6,
    0.1, 1.0, 0.3, 0.8, 0.2, 1.1, 0.4, 0.9, 0.2, 1.2,
    0.3, 0.8, 1.4, 0.5, 0.3, 0.4, 0.3, 0.5, 0.4, 0.3,
    0.4, 0.3, 0.5, 0.3, 0.4, 0.2, 0.3, 0.35, 0.25, 0.3,
    0.3, 0.25, 0.3, 0.2, 0.35, 0.3, 0.25, 0.4, 0.3, 0.5,
    0.4, 0.9, 0.3, 1.2, 0.5, 1.5, 0.4, 1.3, 0.6, 1.8,
    0.5, 1.6, 0.8, 2.2, 0.7, 1.9, 1.0, 2.5, 0.9, 2.8,
    1.2, 3.0, 1.0, 2.6, 1.5, 3.3, 1.3, 3.5, 1.8, 3.0,
    1.5, 3.8, 1.9, 4.0, 2.0, 3.6, 1.8, 3.2, 2.2, 4.2,
    1.8, 4.5, 2.0, 4.75, 2.2, 4.4, 1.9, 4.6, 2.1, 4.3,
    2.3, 4.5, 2.0, 4.2, 2.4, 4.6, 2.2, 4.0, 2.5, 4.4,
    2.3, 4.1, 2.0, 4.3, 2.2, 3.8, 2.4, 4.0, 2.1, 3.7,
    2.3, 3.9, 2.0, 3.6, 2.2, 3.5, 1.6, 3.2, 1.5, 3.0,
    1.4, 2.8, 1.2, 2.0, 0.8, 0.3, 0.0, 0.1, 0.0, 0.4,
    0.6, 0.9, 0.5, 1.1, 0.7, 1.0, 0.6, 1.2, 0.8, 1.0,
    1.0, 5.0, 1.2, 5.5, 1.5, 6.0, 1.8, 6.5, 2.2, 7.5,
    2.6, 8.0, 3.0, 9.0, 3.5, 10.0, 3.8, 10.5, 4.2, 11.5,
    4.5, 12.5, 5.0, 14.3, 5.3, 13.0, 5.6, 17.3, 5.8, 14.0,
    5.8]
ka_bot_segs = [(1032, 1424), (1520, 1760)]
ka_bot_pl = [10.3, 10.4, 10.35, 10.3, 10.25, 10.2, 10.3, 10.4, 10.5, 10.35,
             10.6, 10.4, 10.3, 10.5, 10.35, 10.55, 10.4, 10.45, 10.35, 10.5,
             10.3, 10.45, 10.4, 10.5, 10.45, 10.35, 10.5, 10.4, 10.3, 10.45,
             10.35, 10.3, 10.5, 10.45, 10.3, 10.4, 10.55, 10.35, 10.5, 10.4,
             10.3, 10.45, 10.35, 10.5, 10.4, 10.3, 10.45, 10.4, 10.35, 10.5,
             10.4, 10.3, 10.45, 10.35, 10.5, 10.45, 10.4, 10.35, 10.5]
ka_bot_cloud = [
    (199, [8.15, 4.35, 4.25, 4.15, 4.0, 3.9, 3.25]),
    (525, [0.5]), (535, [0.5, 0.45]), (545, [0.45]), (555, [0.6, 0.4]), (565, [0.7, 0.35, 0.5]),
    (575, [0.5, 0.3]), (585, [0.45, 0.25, 0.35]), (595, [0.3, 0.2, 0.5]), (605, [0.35, 0.2, 0.4]),
    (615, [0.3, 0.15, 0.45]), (625, [0.25, 0.35, 0.2]), (635, [0.4, 0.2, 0.3]),
    (645, [0.3, 0.15, 0.5]), (655, [0.35, 0.2, 0.4]), (665, [0.25, 0.3, 0.15]),
    (675, [0.4, 0.2, 0.3]), (685, [0.3, 0.5, 0.2]), (695, [0.3, 0.4]),
    (699, [0.6, 0.8, 1.0, 1.2, 1.4]),
    (1035, [1.5, 2.0, 2.5, 3.0, 3.5, 4.2]), (1041, [1.8, 2.3, 2.8, 3.3, 3.9]),
    (1047, [1.7, 2.3, 2.9, 3.5]), (1053, [2.0, 2.6, 3.2, 3.8]),
    (1059, [1.8, 2.4, 3.0, 3.6, 4.2]), (1065, [2.1, 2.7, 3.4, 4.0]),
    (1071, [2.0, 2.6, 3.2, 3.8]), (1077, [2.3, 2.9, 3.5, 4.1]),
    (1083, [1.9, 2.5, 3.1, 3.7, 4.3]), (1089, [2.2, 2.8, 3.5, 4.2]),
    (1095, [2.1, 2.7, 3.3, 3.9]), (1101, [2.4, 3.0, 3.7, 4.5]),
    (1107, [2.0, 2.6, 3.2, 3.8, 4.4]), (1113, [2.5, 3.1, 3.8, 4.9]),
    (1119, [2.2, 2.8, 3.4, 4.0, 4.6, 5.2]), (1125, [2.6, 3.3, 4.4, 5.4, 5.9]),
    (1131, [2.3, 2.9, 3.5, 4.1, 4.7, 5.5, 6.3]), (1137, [2.7, 3.4, 4.0, 5.1, 6.1]),
    (1143, [2.4, 3.0, 3.6, 4.2, 4.8, 5.6, 6.5]), (1149, [2.8, 3.4, 4.5, 5.3, 6.2]),
    (1155, [2.5, 3.1, 3.7, 4.3, 5.0, 5.8, 6.6]), (1161, [2.9, 3.5, 4.6, 5.5, 6.3]),
    (1167, [2.4, 3.0, 3.6, 4.4, 5.2, 6.0, 6.7]), (1173, [2.8, 3.6, 4.8, 5.7, 6.5]),
    (1179, [2.6, 3.2, 3.9, 4.6, 5.4, 6.2]), (1185, [3.0, 3.7, 4.3, 5.1, 6.0, 6.8]),
    (1191, [2.7, 3.3, 4.0, 4.8, 5.6, 6.4, 6.8]), (1197, [3.1, 3.8, 4.5, 5.3, 6.2, 7.0]),
    (1203, [2.8, 3.5, 4.2, 5.0, 5.8, 6.5]), (1209, [3.2, 3.9, 4.6, 5.5, 6.3, 7.1]),
    (1215, [2.9, 3.6, 4.4, 5.2, 6.0, 6.8, 7.6]), (1221, [3.3, 4.0, 4.8, 5.6, 6.5, 7.3]),
    (1227, [2.7, 3.4, 4.2, 5.0, 5.8, 6.6, 7.6]), (1233, [3.1, 3.9, 4.7, 5.5, 6.4, 7.2]),
    (1239, [3.0, 3.7, 4.5, 5.3, 6.1, 6.9]), (1245, [3.4, 4.2, 5.0, 5.8, 6.6, 7.4]),
    (1251, [3.1, 3.8, 4.6, 5.4, 6.2, 7.0]), (1257, [3.5, 4.3, 5.1, 5.9, 6.7, 7.6]),
    (1263, [2.9, 3.6, 4.4, 5.2, 6.0, 6.8, 7.5]), (1269, [3.3, 4.1, 4.9, 5.7, 6.5, 7.7]),
    (1275, [3.2, 3.9, 4.7, 5.5, 6.3, 7.1]), (1281, [3.6, 4.4, 5.2, 6.0, 6.9, 7.8]),
    (1287, [3.3, 4.0, 4.8, 5.6, 6.4, 7.2, 8.0]), (1293, [3.7, 4.5, 5.3, 6.1, 7.0, 8.3]),
    (1299, [3.1, 3.8, 4.6, 5.4, 6.2, 7.0, 8.4]), (1305, [3.5, 4.3, 5.1, 5.9, 6.8, 7.7]),
    (1311, [3.4, 4.1, 4.9, 5.7, 6.5, 7.4, 8.7, 9.8]), (1317, [3.6, 4.4, 5.2, 6.0, 6.9]),
    (1323, [3.0, 3.7, 4.4, 5.1, 5.8, 6.5]), (1329, [2.8, 3.5, 4.2, 4.9, 5.6]),
    (1335, [2.6, 3.2, 3.9, 4.6, 5.3]), (1341, [2.4, 3.0, 3.7, 4.4, 5.0]),
    (1347, [2.2, 2.8, 3.4, 4.0, 4.7]), (1353, [2.0, 2.6, 3.2, 3.9, 4.5]),
    (1359, [2.0, 2.5, 3.0, 3.6, 4.2]), (1365, [1.7, 2.3, 2.8, 3.4, 4.0]),
    (1371, [1.5, 2.0, 2.6, 3.2, 3.8]), (1377, [1.4, 1.9, 2.5, 3.1]),
    (1383, [1.3, 1.8, 2.4, 3.0]), (1389, [1.0, 1.6, 2.2, 2.8]),
    (1395, [0.8, 1.3, 1.8, 2.4]), (1401, [0.6, 1.1, 1.6, 2.2, 2.8]),
    (1407, [0.4, 0.9, 1.4, 2.0, 2.6]), (1413, [0.3, 0.8, 1.3, 1.9, 2.5]),
    (1419, [0.2, 0.7, 1.2, 1.8, 2.4]), (1425, [0.5, 0.9, 1.4, 2.0, 2.6]),
    (1431, [0.6, 1.0, 1.5, 2.1, 2.7]), (1437, [0.7, 1.2, 1.7, 2.3, 2.9]),
    (1443, [0.5, 0.9, 1.4, 2.0, 2.6, 3.0]), (1449, [0.8, 1.3, 1.8, 2.4]),
    (1455, [0.6, 1.1, 1.6, 2.2, 2.8]), (1461, [0.9, 1.4, 1.9, 2.5]),
    (1467, [0.7, 1.2, 1.7, 2.3]), (1473, [1.0, 1.5, 2.1, 2.7]),
    (1479, [0.8, 1.3, 1.9, 2.5]), (1485, [1.1, 1.6, 2.2, 2.8]),
    (1491, [0.9, 1.4, 2.0, 2.6]), (1497, [1.0, 1.6, 2.3, 3.0]),
    (1503, [1.2, 1.8, 2.4, 3.0, 3.6]), (1512, [1.8, 2.4, 3.0, 3.6, 4.3])]

KA_PL_STEP = 30
col_titles = ["UrbanLoco1", "UrbanLoco2", "Robotcar", "KAIST"]

# ------------------------------------------------------------------ helpers
def grid(vals, step):
    return [i * step for i in range(len(vals))]


def pick_segments(xs, ys, segs):
    ox, oy = [], []
    for a, b in segs:
        for x, y in zip(xs, ys):
            if a <= x <= b:
                ox.append(x)
                oy.append(y)
        ox.append(None)
        oy.append(None)
    return ox, oy


def unzip(pairs):
    return [p[0] for p in pairs], [p[1] for p in pairs]


def expand(cloud):
    xs, ys = [], []
    for x, vals in cloud:
        for v in vals:
            xs.append(x)
            ys.append(v)
    return xs, ys


def pair(a, b):
    n = min(len(a), len(b))
    return list(a[:n]), list(b[:n])


panels = [
    dict(r=1, c=1, res=ul1_top_res, step=UL_STEP, segs=ul1_top_segs,
         pl=pair(ul1_top_pl_x, ul1_top_pl_y), vis=unzip(ul1_top_vis)),
    dict(r=1, c=2, res=ul2_top_res, step=UL_STEP, segs=ul2_top_segs,
         pl=pair(ul2_top_pl_x, ul2_top_pl_y), vis=unzip(ul2_top_vis)),
    dict(r=1, c=3, res=rc_top_res, step=RC_STEP, segs=rc_top_segs,
         pl=pair(rc_top_pl_x, rc_top_pl_y), vis=unzip(rc_top_vis)),
    dict(r=1, c=4, res=ka_top_res, step=KA_STEP, segs=ka_top_segs,
         pl=(grid(ka_top_pl, KA_PL_STEP), ka_top_pl), vis=expand(ka_top_cloud)),
    dict(r=2, c=1, res=ul1_bot_res, step=UL_STEP, segs=ul1_bot_segs,
         pl=pair(ul1_bot_pl_x, ul1_bot_pl_y), vis=unzip(ul1_bot_vis)),
    dict(r=2, c=2, res=ul2_bot_res, step=UL_STEP, segs=ul2_bot_segs,
         pl=pair(ul2_bot_pl_x, ul2_bot_pl_y), vis=unzip(ul2_bot_vis)),
    dict(r=2, c=3, res=rc_bot_res, step=RC_STEP, segs=rc_bot_segs,
         pl=pair(rc_bot_pl_x, rc_bot_pl_y), vis=unzip(rc_bot_vis)),
    dict(r=2, c=4, res=ka_bot_res, step=KA_STEP, segs=ka_bot_segs,
         pl=(grid(ka_bot_pl, KA_PL_STEP), ka_bot_pl), vis=expand(ka_bot_cloud)),
]

# ------------------------------------------------------------------ styling
W, H = 1367, 838
FONT = "DejaVu Sans"
RES_COLOR = "rgba(244,160,130,0.85)"
PL_COLOR = "#ff8c1a"
DET_COLOR = "#e8384f"
VIS_COLOR = "#3a72c2"

col_px = [(106, 378), (432, 701), (755, 1025), (1079, 1351)]
row_px = [(83, 364.5), (419.3, 701.7)]
x_ranges = [[-50, 1050], [-50, 1050], [-87, 1799], [-86, 1844]]
x_ticks = [[0, 500, 1000], [0, 500, 1000], [0, 1000], [0, 1000]]
y_cfg = {
    (1, 1): dict(range=[-0.69, 13.94], dtick=5, fmt="d"),
    (1, 2): dict(range=[-0.47, 9.95], dtick=2.5, fmt=".1f"),
    (1, 3): dict(range=[-0.18, 3.76], dtick=1, fmt="d"),
    (1, 4): dict(range=[-0.59, 12.63], dtick=5, fmt="d"),
    (2, 1): dict(range=[-0.525, 11.02], dtick=2.5, fmt=".1f"),
    (2, 2): dict(range=[-0.45, 9.33], dtick=2, fmt="d"),
    (2, 3): dict(range=[-0.18, 3.79], dtick=1, fmt="d"),
    (2, 4): dict(range=[-0.88, 18.2], dtick=5, fmt="d"),
}

fig = make_subplots(rows=2, cols=4)

for i, p in enumerate(panels):
    first = i == 0
    rx = grid(p["res"], p["step"])
    ry = p["res"]
    fig.add_trace(go.Scatter(
        x=rx, y=ry, mode="lines", name="residual IMU/GNSS/VN",
        line=dict(color=RES_COLOR, width=1), legend="legend", showlegend=first,
        hoverinfo="skip"), row=p["r"], col=p["c"])
    fig.add_trace(go.Scatter(
        x=p["pl"][0], y=p["pl"][1], mode="lines", name="PL for CSS only",
        line=dict(color=PL_COLOR, width=2.6, dash="7px,4px", shape="hv"),
        legend="legend", showlegend=first, hoverinfo="skip"), row=p["r"], col=p["c"])
    dx, dy = pick_segments(rx, ry, p["segs"])
    fig.add_trace(go.Scatter(
        x=dx, y=dy, mode="lines", name="Detected IM anomalous segments",
        line=dict(color=DET_COLOR, width=1.7), legend="legend2", showlegend=first,
        hoverinfo="skip"), row=p["r"], col=p["c"])
    fig.add_trace(go.Scatter(
        x=p["vis"][0], y=p["vis"][1], mode="markers", name="visual navigation anomalies",
        marker=dict(color=VIS_COLOR, size=3.5, line=dict(width=0)),
        legend="legend2", showlegend=first, hoverinfo="skip"), row=p["r"], col=p["c"])

axis_common = dict(showline=True, linecolor="black", linewidth=1.3, mirror=True,
                   ticks="outside", ticklen=6, tickwidth=1.3, tickcolor="black",
                   showgrid=False, zeroline=False,
                   tickfont=dict(family=FONT, size=24, color="black"))

for r in (1, 2):
    for c in (1, 2, 3, 4):
        idx = (r - 1) * 4 + c
        xa = "xaxis" if idx == 1 else f"xaxis{idx}"
        ya = "yaxis" if idx == 1 else f"yaxis{idx}"
        x0, x1 = col_px[c - 1]
        t0, t1 = row_px[r - 1]
        cfg = y_cfg[(r, c)]
        fig.layout[xa].update(domain=[x0 / W, x1 / W], range=x_ranges[c - 1],
                              tickmode="array", tickvals=x_ticks[c - 1],
                              showticklabels=(r == 2), ticklabelstandoff=5, **axis_common)
        fig.layout[ya].update(domain=[1 - t1 / H, 1 - t0 / H], range=cfg["range"],
                              tick0=0, dtick=cfg["dtick"], tickformat=cfg["fmt"],
                              **axis_common)

annotations = []
for c, t in enumerate(col_titles):
    x0, x1 = col_px[c]
    annotations.append(dict(text=t, x=(x0 + x1) / 2 / W, y=1 - 821 / H, xref="paper",
                            yref="paper", showarrow=False, xanchor="center", yanchor="middle",
                            font=dict(family=FONT, size=30, color="black")))
annotations.append(dict(text="step", x=728.5 / W, y=1 - 763 / H, xref="paper", yref="paper",
                        showarrow=False, xanchor="center", yanchor="middle",
                        font=dict(family=FONT, size=23.5, color="black")))
annotations.append(dict(text="meters", x=18 / W, y=1 - 392 / H, xref="paper", yref="paper",
                        showarrow=False, xanchor="center", yanchor="middle", textangle=-90,
                        font=dict(family=FONT, size=23.5, color="black")))

legend_font = dict(family=FONT, size=25.6, color="black")
fig.update_layout(
    width=W, height=H, margin=dict(l=0, r=0, t=0, b=0),
    paper_bgcolor="white", plot_bgcolor="white",
    font=dict(family=FONT, color="black"),
    annotations=annotations,
    legend=dict(x=278 / W, y=1 - 6 / H, xanchor="left", yanchor="top",
                bgcolor="rgba(0,0,0,0)", borderwidth=0, font=legend_font,
                itemwidth=30, orientation="v"),
    legend2=dict(x=690 / W, y=1 - 6 / H, xanchor="left", yanchor="top",
                 bgcolor="rgba(0,0,0,0)", borderwidth=0, font=legend_font,
                 itemwidth=30, orientation="v"),
    shapes=[dict(type="rect", xref="paper", yref="paper", x0=233 / W, x1=1183 / W,
                 y0=1 - 92 / H, y1=1 - 6 / H, line=dict(color="#cccccc", width=1.5),
                 fillcolor="rgba(255,255,255,0.8)", layer="above")],
)

fig.write_html("out.html")
